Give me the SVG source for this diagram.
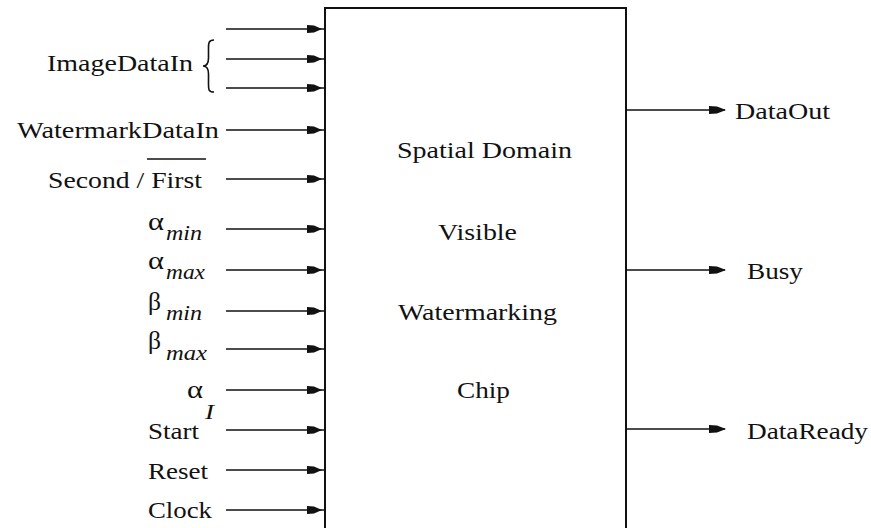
<svg xmlns="http://www.w3.org/2000/svg" width="871" height="528" viewBox="0 0 871 528" font-family="Liberation Serif, Times New Roman, serif">
<style>
text{font-size:24px;fill:#111}
.sub{font-style:italic;font-size:22px}
.gr{font-size:26px}
.wire{stroke:#111;stroke-width:1.6;fill:none}
.in{marker-end:url(#ahIn)}
.out{marker-end:url(#ahOut)}
</style>
<defs>
<marker id="ahIn" markerUnits="userSpaceOnUse" markerWidth="20" markerHeight="12" viewBox="0 -6 20 12" refX="18" refY="0" orient="auto">
<path d="M0,-4 L7,-3.5 L15,0 L7,3.5 L0,4 Z" fill="#111"/>
</marker>
<marker id="ahOut" markerUnits="userSpaceOnUse" markerWidth="20" markerHeight="12" viewBox="0 -6 20 12" refX="16" refY="0" orient="auto">
<path d="M0,-4 L8,-3.5 L17,0 L8,3.5 L0,4 Z" fill="#111"/>
</marker>
</defs>
<rect width="871" height="528" fill="#fff"/>
<g id="connectors">
<line class="wire in" x1="226" y1="29" x2="325" y2="29"/>
<line class="wire in" x1="226" y1="59" x2="325" y2="59"/>
<line class="wire in" x1="226" y1="88" x2="325" y2="88"/>
<line class="wire in" x1="226" y1="130" x2="325" y2="130"/>
<line class="wire in" x1="226" y1="179" x2="325" y2="179"/>
<line class="wire in" x1="226" y1="229" x2="325" y2="229"/>
<line class="wire in" x1="226" y1="270" x2="325" y2="270"/>
<line class="wire in" x1="226" y1="311" x2="325" y2="311"/>
<line class="wire in" x1="226" y1="349" x2="325" y2="349"/>
<line class="wire in" x1="226" y1="390" x2="325" y2="390"/>
<line class="wire in" x1="226" y1="430" x2="325" y2="430"/>
<line class="wire in" x1="226" y1="470" x2="325" y2="470"/>
<line class="wire in" x1="226" y1="510" x2="325" y2="510"/>
<line class="wire out" x1="626" y1="110" x2="725" y2="110"/>
<line class="wire out" x1="626" y1="270" x2="725" y2="270"/>
<line class="wire out" x1="626" y1="429" x2="725" y2="429"/>
</g>
<g id="chip">
<path d="M325,540 L325,8 L626,8 L626,540" fill="none" stroke="#111" stroke-width="2"/>
<text x="397" y="158" textLength="175" lengthAdjust="spacingAndGlyphs">Spatial Domain</text>
<text x="438" y="240" textLength="79" lengthAdjust="spacingAndGlyphs">Visible</text>
<text x="398" y="320" textLength="159" lengthAdjust="spacingAndGlyphs">Watermarking</text>
<text x="457" y="398" textLength="53" lengthAdjust="spacingAndGlyphs">Chip</text>
</g>
<g id="imageDataIn">
<text x="47" y="71" textLength="146" lengthAdjust="spacingAndGlyphs">ImageDataIn</text>
<path d="M214,40 C208,40 208.5,44 208.5,50 L208.5,58 C208.5,63 207,66 203,66 C207,66 208.5,69 208.5,74 L208.5,83 C208.5,89 208,92 214,92" fill="none" stroke="#111" stroke-width="1.6"/>
</g>
<g id="watermarkDataIn"><text x="17" y="138" textLength="202" lengthAdjust="spacingAndGlyphs">WatermarkDataIn</text></g>
<g id="secondFirst">
<text x="48" y="188" textLength="154" lengthAdjust="spacingAndGlyphs">Second / First</text>
<line x1="147" y1="159" x2="206" y2="159" stroke="#111" stroke-width="1.5"/>
</g>
<g id="alphaMin"><text class="gr" x="148" y="230" textLength="16" lengthAdjust="spacingAndGlyphs">α</text><text class="sub" x="166" y="240" textLength="36" lengthAdjust="spacingAndGlyphs">min</text></g>
<g id="alphaMax"><text class="gr" x="148" y="269" textLength="16" lengthAdjust="spacingAndGlyphs">α</text><text class="sub" x="166" y="279" textLength="39" lengthAdjust="spacingAndGlyphs">max</text></g>
<g id="betaMin"><text class="gr" x="148" y="310" textLength="13" lengthAdjust="spacingAndGlyphs">β</text><text class="sub" x="166" y="320" textLength="36" lengthAdjust="spacingAndGlyphs">min</text></g>
<g id="betaMax"><text class="gr" x="148" y="349" textLength="13" lengthAdjust="spacingAndGlyphs">β</text><text class="sub" x="166" y="360" textLength="41" lengthAdjust="spacingAndGlyphs">max</text></g>
<g id="alphaI"><text class="gr" x="187" y="398" textLength="16" lengthAdjust="spacingAndGlyphs">α</text><text class="sub" x="205" y="419" textLength="9" lengthAdjust="spacingAndGlyphs">I</text></g>
<g id="start"><text x="148" y="439" textLength="51" lengthAdjust="spacingAndGlyphs">Start</text></g>
<g id="reset"><text x="148" y="479" textLength="60" lengthAdjust="spacingAndGlyphs">Reset</text></g>
<g id="clock"><text x="148" y="518" textLength="64" lengthAdjust="spacingAndGlyphs">Clock</text></g>
<g id="dataOut"><text x="735" y="119" textLength="95" lengthAdjust="spacingAndGlyphs">DataOut</text></g>
<g id="busy"><text x="747" y="279" textLength="56" lengthAdjust="spacingAndGlyphs">Busy</text></g>
<g id="dataReady"><text x="747" y="439" textLength="121" lengthAdjust="spacingAndGlyphs">DataReady</text></g>
</svg>
